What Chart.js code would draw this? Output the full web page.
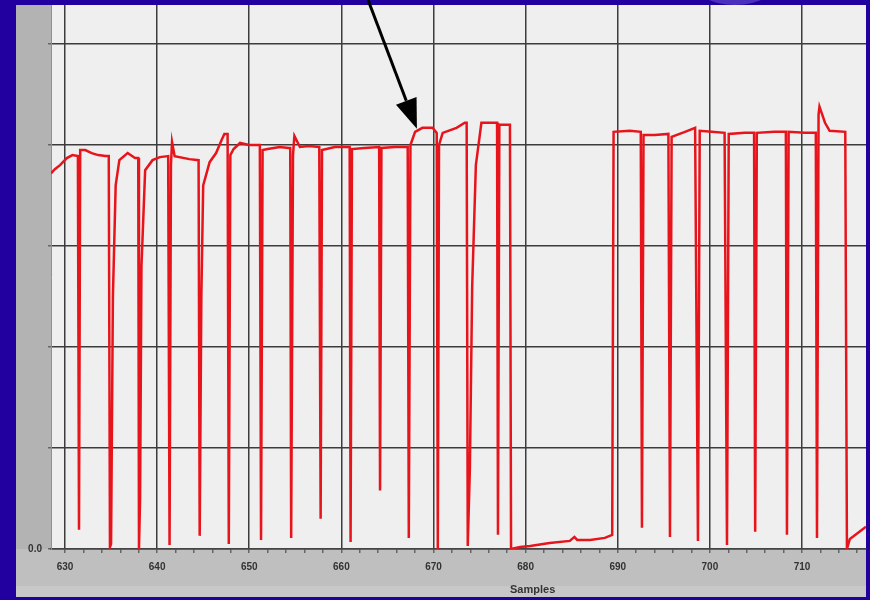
<!DOCTYPE html>
<html>
<head>
<meta charset="utf-8">
<script src="https://cdn.jsdelivr.net/npm/chart.js@4.4.0/dist/chart.umd.min.js"></script>
<style>
  html, body { margin: 0; padding: 0; background: #2200a0; }
  #wrap { position: relative; width: 870px; height: 600px; }
  #samplesLabel {
    position: absolute; left: 510px; top: 583px;
    font: bold 11px "Liberation Sans", Arial, sans-serif; color: #333;
  }
</style>
</head>
<body>
<div id="wrap">
  <canvas id="myChart" width="870" height="600"></canvas>
  <div id="samplesLabel">Samples</div>
</div>
<script>
// sample index (x) and signal level (y)
const amostras = [
  628.48, 628.9, 629.46, 630.2, 630.8, 631.4, 631.52, 631.65, 632.2, 632.9, 633.6, 634.4, 634.75, 634.88,
  635.0, 635.2, 635.5, 635.9, 636.8, 637.6, 637.95, 638.03,
  638.15, 638.3, 638.7, 639.5, 640.3, 641.2, 641.35, 641.5, 641.62, 641.9, 643.5, 644.5, 644.62,
  644.8, 645.0, 645.7, 646.4, 647.0, 647.3, 647.65, 647.78,
  647.95, 648.3, 649.0, 650.0, 651.0, 651.15, 651.28,
  651.45, 652.0, 653.3, 654.3, 654.45, 654.55, 654.75, 654.9, 655.5, 656.5, 657.6, 657.75,
  657.9, 659.3, 660.9, 661.0, 661.15, 662.5, 664.1, 664.2, 664.35, 665.8, 667.2, 667.32,
  667.5, 668.0, 668.8, 669.9, 670.35, 670.47, 670.6, 671.0, 672.5, 673.4, 673.6, 673.72,
  673.95, 674.2, 674.6, 675.2, 676.9, 677.0, 677.15, 678.3, 678.42,
  679.4, 680.5, 682.6, 684.8, 685.3, 685.6, 687.0, 688.6, 689.4,
  689.55, 691.3, 692.5, 692.63, 692.8, 694.0, 695.5, 695.67, 695.85, 697.3, 698.4, 698.71,
  698.9, 700.2, 701.6, 701.86, 702.05, 703.8, 704.8, 704.92, 705.1, 707.0, 708.25, 708.37,
  708.55, 710.3, 711.5, 711.63, 711.8, 711.9, 712.5, 713.0, 714.7, 714.88, 715.2, 716.95
];
const nivel = [
  3.72, 3.76, 3.80, 3.87, 3.90, 3.89, 0.19, 3.95, 3.95, 3.92, 3.90, 3.89, 3.89, 0.02,
  0.05, 2.5, 3.6, 3.85, 3.92, 3.87, 3.87, 0.0,
  0.5, 2.8, 3.75, 3.85, 3.88, 3.89, 0.04, 3.8, 4.03, 3.89, 3.86, 3.85, 0.13,
  2.5, 3.6, 3.83, 3.92, 4.05, 4.11, 4.11, 0.05,
  3.9, 3.96, 4.02, 4.0, 4.0, 4.0, 0.09,
  3.95, 3.96, 3.98, 3.97, 3.97, 0.11, 3.9, 4.09, 3.98, 3.99, 3.98, 0.3,
  3.95, 3.98, 3.98, 0.07, 3.96, 3.97, 3.98, 0.58, 3.97, 3.98, 3.98, 0.11,
  4.0, 4.13, 4.17, 4.17, 4.12, 0.0, 4.0, 4.12, 4.17, 4.22, 4.22, 0.03,
  0.8, 2.6, 3.8, 4.22, 4.22, 0.14, 4.2, 4.2, 0.0,
  0.02, 0.03, 0.06, 0.08, 0.12, 0.09, 0.09, 0.11, 0.14,
  4.13, 4.14, 4.13, 0.21, 4.1, 4.10, 4.11, 0.12, 4.08, 4.13, 4.17, 0.08,
  4.14, 4.13, 4.12, 0.04, 4.11, 4.12, 4.12, 0.17, 4.12, 4.13, 4.13, 0.14,
  4.13, 4.12, 4.12, 0.11, 4.3, 4.38, 4.22, 4.14, 4.13, 0.0, 0.1, 0.22
];
const xMarcas = [630, 640, 650, 660, 670, 680, 690, 700, 710];
const yMarcas = [0, 1, 2, 3, 4, 5];

const pontos = amostras.map((s, i) => ({ x: s, y: nivel[i] }));

const fundo = {
  id: 'fundo',
  beforeDraw(chart) {
    const c = chart.ctx, a = chart.chartArea;
    c.save();
    c.fillStyle = '#2200a0';
    c.fillRect(0, 0, 870, 600);
    c.fillStyle = '#4a30bc';
    c.beginPath();
    c.ellipse(735, -22, 45, 27, 0, 0, Math.PI * 2);
    c.fill();
    c.fillStyle = '#bfbfbf';
    c.fillRect(16, 5, 850, 592);
    c.fillStyle = '#c8c8c8';
    c.fillRect(16, 586, 850, 11);
    c.fillStyle = '#b3b3b3';
    c.fillRect(16, 5, a.left - 16, a.bottom - 5);
    c.fillStyle = '#efefef';
    c.fillRect(a.left, a.top, a.right - a.left, a.bottom - a.top);
    c.restore();
  }
};

const seta = {
  id: 'seta',
  afterDraw(chart) {
    const c = chart.ctx;
    const xs = chart.scales.x, ys = chart.scales.y;
    const tx = xs.getPixelForValue(668.2), ty = ys.getPixelForValue(4.16);
    const sx = xs.getPixelForValue(662.9), sy = 0;
    const ang = Math.atan2(ty - sy, tx - sx);
    const len = 30, half = 11;
    const bx = tx - len * Math.cos(ang), by = ty - len * Math.sin(ang);
    c.save();
    c.strokeStyle = '#000';
    c.fillStyle = '#000';
    c.lineWidth = 3;
    c.beginPath();
    c.moveTo(sx, sy);
    c.lineTo(bx, by);
    c.stroke();
    c.beginPath();
    c.moveTo(tx, ty);
    c.lineTo(bx + half * Math.sin(ang), by - half * Math.cos(ang));
    c.lineTo(bx - half * Math.sin(ang), by + half * Math.cos(ang));
    c.closePath();
    c.fill();
    c.restore();
  }
};

const ctx = document.getElementById('myChart').getContext('2d');

let chart = new Chart(ctx, {
  type: 'line',
  data: {
    datasets: [{
      label: 'Sinal',
      data: pontos,
      borderColor: '#e8141c',
      borderWidth: 2.5,
      pointRadius: 0,
      tension: 0,
      fill: false
    }]
  },
  options: {
    responsive: false,
    animation: false,
    devicePixelRatio: 1,
    layout: { padding: { left: 16, top: 5, right: 4, bottom: 3 } },
    plugins: { legend: { display: false }, tooltip: { enabled: false } },
    scales: {
      x: {
        type: 'linear',
        min: 628.48,
        max: 716.95,
        afterFit(s) {
          s.height = 48;
          s.paddingLeft = 0; s.paddingRight = 0;
        },
        afterBuildTicks(s) {
          const t = [];
          for (let v = 630; v <= 716; v += 2) t.push({ value: v });
          s.ticks = t;
        },
        grid: {
          color: c => xMarcas.includes(c.tick && c.tick.value) ? '#3c3c3c' : 'rgba(0,0,0,0)',
          lineWidth: 1.5,
          tickColor: '#666',
          tickLength: 4
        },
        border: { color: '#444', width: 1.5 },
        ticks: {
          autoSkip: false,
          maxRotation: 0,
          padding: 8,
          color: '#333',
          font: { family: 'Liberation Sans', size: 10, weight: 'bold' },
          callback: v => xMarcas.includes(v) ? String(v) : ''
        }
      },
      y: {
        min: 0,
        max: 5.386,
        afterFit(s) {
          s.width = 35;
          s.paddingTop = 0; s.paddingBottom = 0;
        },
        afterBuildTicks(s) { s.ticks = yMarcas.map(v => ({ value: v })); },
        grid: { color: '#3c3c3c', lineWidth: 1.5, tickLength: 3, tickColor: '#666' },
        border: { color: '#e07070', width: 1 },
        ticks: {
          padding: 6,
          color: '#333',
          font: { family: 'Liberation Sans', size: 10, weight: 'bold' },
          callback: v => v === 0 ? '0.0' : ''
        }
      }
    }
  },
  plugins: [fundo, seta]
});
</script>
</body>
</html>
